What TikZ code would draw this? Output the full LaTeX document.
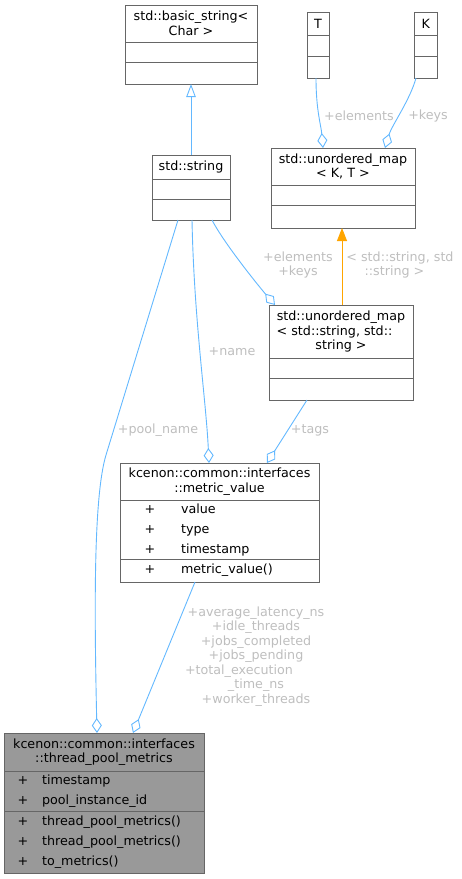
\documentclass[tikz,border=0pt]{standalone}
\usepackage{xcolor}
\usepackage{fontspec}
\setmainfont{DejaVu Sans}
\usepackage{tikz}
\usetikzlibrary{positioning,arrows.meta}

\definecolor{boxgray}{HTML}{666666}
\definecolor{mainfill}{HTML}{999999}
\definecolor{linkblue}{HTML}{63B8FF}
\definecolor{labelgray}{HTML}{BEBEBE}
\definecolor{tplorange}{HTML}{FFA500}

\begin{document}
\begin{tikzpicture}[
        x=1pt, y=-1pt,
        classhead/.style={rectangle, draw=boxgray, line width=1pt, fill=white, inner sep=0pt, outer sep=0pt, align=center, font=\fontsize{12.7}{14.5}\selectfont},
        compart/.style={rectangle, draw=boxgray, line width=1pt, fill=white, inner ysep=0pt, outer sep=0pt, align=left, font=\fontsize{12.7}{20}\selectfont},
        link/.style={draw=linkblue, line width=0.9pt},
        aggr/.style={link, {Diamond[open, length=15pt, width=10pt]}-},
        inherit/.style={link, -{Triangle[open, length=13pt, width=9.5pt]}},
        bind/.style={draw=tplorange, line width=0.9pt, -{Triangle[length=13pt, width=10pt]}},
        lbl/.style={text=labelgray, inner sep=0pt, align=center, font=\fontsize{12.7}{14.5}\selectfont}
    ]
        \useasboundingbox (0,0) rectangle (461,879);

        % Template classes
        \node[classhead, minimum width=132pt, minimum height=37pt, anchor=north west] (bstitle) at (125,5) {std::basic\_string<\\Char >};
        \node[compart, minimum width=132pt, minimum height=20pt, below=0pt of bstitle] (bsattr) {};
        \node[compart, minimum width=132pt, minimum height=22pt, below=0pt of bsattr] (bsmeth) {};

        \node[classhead, minimum width=22pt, minimum height=23pt, anchor=north west] (tttitle) at (307,12.5) {T};
        \node[compart, minimum width=22pt, minimum height=20.5pt, below=0pt of tttitle] (ttattr) {};
        \node[compart, minimum width=22pt, minimum height=22pt, below=0pt of ttattr] (ttmeth) {};

        \node[classhead, minimum width=22.5pt, minimum height=23pt, anchor=north west] (kktitle) at (414.5,12.5) {K};
        \node[compart, minimum width=22.5pt, minimum height=20.5pt, below=0pt of kktitle] (kkattr) {};
        \node[compart, minimum width=22.5pt, minimum height=22pt, below=0pt of kkattr] (kkmeth) {};

        \node[classhead, minimum width=144pt, minimum height=37pt, anchor=north west] (mktitle) at (271,148) {std::unordered\_map\\< K, T >};
        \node[compart, minimum width=144pt, minimum height=20pt, below=0pt of mktitle] (mkattr) {};
        \node[compart, minimum width=144pt, minimum height=23pt, below=0pt of mkattr] (mkmeth) {};

        % Instantiated classes
        \node[classhead, minimum width=78pt, minimum height=24pt, anchor=north west] (sttitle) at (152,155) {std::string};
        \node[compart, minimum width=78pt, minimum height=20pt, below=0pt of sttitle] (stattr) {};
        \node[compart, minimum width=78pt, minimum height=21pt, below=0pt of stattr] (stmeth) {};

        \node[classhead, minimum width=144pt, minimum height=53pt, anchor=north west] (mstitle) at (269,305) {std::unordered\_map\\< std::string, std::\kern13pt\\string >};
        \node[compart, minimum width=144pt, minimum height=20pt, below=0pt of mstitle] (msattr) {};
        \node[compart, minimum width=144pt, minimum height=22pt, below=0pt of msattr] (msmeth) {};

        % Metric value
        \node[classhead, minimum width=199pt, minimum height=37pt, anchor=north west] (mvtitle) at (120,463) {kcenon::common::interfaces\\::metric\_value};
        \node[compart, inner xsep=24.7pt, text width=149.6pt, minimum height=59pt, below=0pt of mvtitle] (mvattr) {+\hspace{25.7pt}value\\+\hspace{25.7pt}type\\+\hspace{25.7pt}timestamp};
        \node[compart, inner xsep=24.7pt, text width=149.6pt, minimum height=23pt, below=0pt of mvattr] (mvmeth) {+\hspace{25.7pt}metric\_value()};

        % Thread pool metrics (main class)
        \node[classhead, fill=mainfill, minimum width=200pt, minimum height=38pt, anchor=north west] (tptitle) at (4,733) {kcenon::common::interfaces\\::thread\_pool\_metrics};
        \node[compart, fill=mainfill, inner xsep=13.7pt, text width=172.6pt, minimum height=40pt, below=0pt of tptitle] (tpattr) {+\hspace{13.7pt}timestamp\\+\hspace{13.7pt}pool\_instance\_id};
        \node[compart, fill=mainfill, inner xsep=13.7pt, text width=172.6pt, minimum height=62pt, below=0pt of tpattr] (tpmeth) {+\hspace{13.7pt}thread\_pool\_metrics()\\+\hspace{13.7pt}thread\_pool\_metrics()\\+\hspace{13.7pt}to\_metrics()};

        % Arrows
        \draw[inherit] (sttitle.north) -- (bsmeth.south);
        \draw[bind] ([xshift=1pt]mstitle.north) -- ([xshift=-1pt]mkmeth.south);

        \draw[aggr] ([xshift=52pt]mktitle.north west) .. controls (321,125) and (316,110) .. ([xshift=-2pt]ttmeth.south);
        \draw[aggr] ([xshift=114pt]mktitle.north west) .. controls (392,125) and (410,100) .. ([xshift=1.5pt]kkmeth.south west);
        \draw[aggr] ([xshift=6pt]mstitle.north west) .. controls (262,290) and (225,245) .. ([xshift=60pt]stmeth.south west);
        \draw[aggr] ([xshift=89pt]mvtitle.north west) .. controls (206,400) and (194,320) .. ([xshift=40pt]stmeth.south west);
        \draw[aggr] ([xshift=147pt]mvtitle.north west) -- ([xshift=38pt]msmeth.south west);
        \draw[aggr] ([xshift=93pt]tptitle.north west) .. controls (94,600) and (94,495) .. (106,455) -- ([xshift=26pt]stmeth.south west);
        \draw[aggr] ([xshift=129pt]tptitle.north west) -- ([xshift=75pt]mvmeth.south west);

        % Labels
        \node[lbl] (elemlbl) at (359,116) {+elements};
        \node[lbl] (keyslbl) at (428,116) {+keys};
        \node[lbl] (strlbl) at (298,265) {+elements\\+keys};
        \node[lbl] (bindlbl) at (400,265) {< std::string, std\\::string >\kern11pt};
        \node[lbl] (namelbl) at (232,352) {+name};
        \node[lbl] (poollbl) at (158,430) {+pool\_name};
        \node[lbl] (tagslbl) at (310,430) {+tags};
        \node[lbl] (fieldlbl) at (256,656.5) {+average\_latency\_ns\\+idle\_threads\\+jobs\_completed\\+jobs\_pending\\+total\_execution\kern34pt\\\_time\_ns\\+worker\_threads};
    \end{tikzpicture}
\end{document}
